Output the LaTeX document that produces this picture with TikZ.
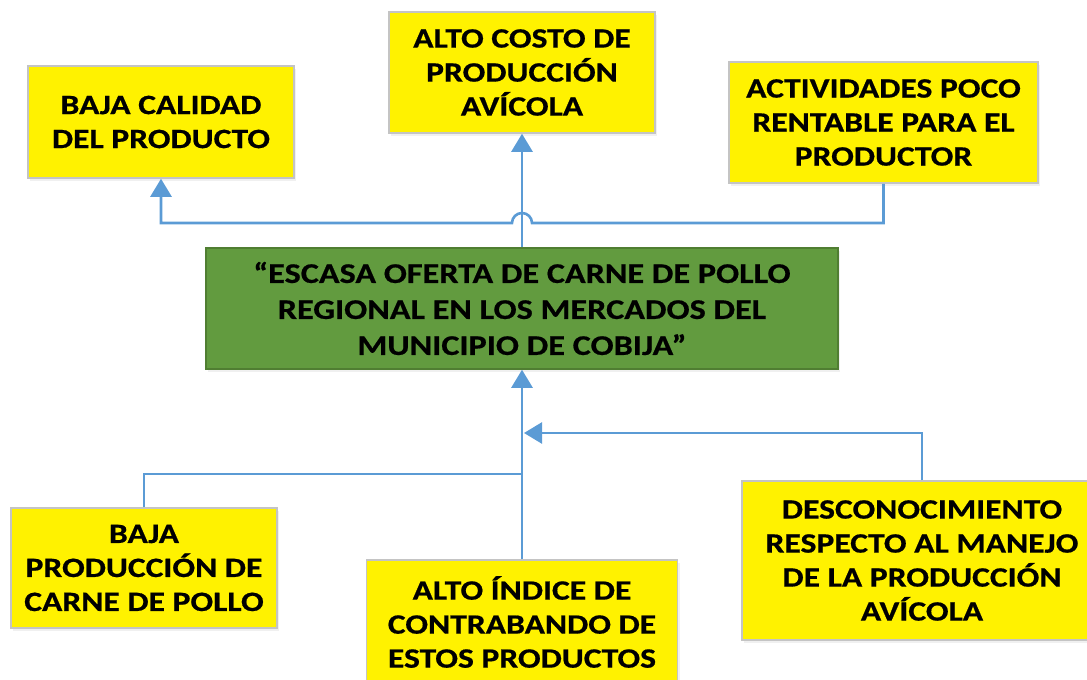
\documentclass[tikz,border=0pt]{standalone}
\usepackage{fontspec}
\setmainfont{Carlito}[FakeStretch=1.2, BoldFeatures={FakeBold=0.6}]
\usetikzlibrary{arrows.meta, calc, positioning, shadows}
\definecolor{conncolor}{HTML}{5B9BD5}
\definecolor{greenfill}{HTML}{629B3F}
\definecolor{greenline}{HTML}{507E32}
\definecolor{boxline}{HTML}{C4C4C4}
\tikzset{
	conn/.style={line width=2.6pt, draw=conncolor, -{Triangle[width=21pt,length=18pt]}},
	conn plain/.style={line width=2.6pt, draw=conncolor},
	causa/.style={
		rectangle,
		draw=boxline, line width=1.5pt,
		fill=yellow,
		drop shadow={opacity=0.12, shadow xshift=2pt, shadow yshift=-3pt},
		inner sep=0pt,
		align=center,
		font=\fontsize{28}{34}\selectfont\bfseries
	},
	problema/.style={
		causa,
		draw=greenline, fill=greenfill,
		font=\fontsize{28.5}{36}\selectfont\bfseries
	}
}
\begin{document}
\begin{tikzpicture}[x=1pt,y=-1pt]
	\useasboundingbox (0,0) rectangle (1087,680);

	% problema central
	\node[problema, minimum width=632, minimum height=121] (oferta) at (522,308.5) {“ESCASA OFERTA DE CARNE DE POLLO\\REGIONAL EN LOS MERCADOS DEL\\MUNICIPIO DE COBIJA”};

	% efectos
	\node[causa, minimum width=266, minimum height=112] (calidad) at (161,122) {BAJA CALIDAD\\DEL PRODUCTO};
	\node[causa, minimum width=266, minimum height=121] (costo) at (522,72.5) {ALTO COSTO DE\\PRODUCCIÓN\\AVÍCOLA};
	\node[causa, minimum width=309, minimum height=121] (rentable) at (883.5,122.5) {ACTIVIDADES POCO\\RENTABLE PARA EL\\PRODUCTOR};

	% causas
	\node[causa, minimum width=266, minimum height=120] (bajaprod) at (144,568) {BAJA\\PRODUCCIÓN DE\\CARNE DE POLLO};
	\node[causa, minimum width=311, minimum height=124] (contrabando) at (522,622) {ALTO ÍNDICE DE\\CONTRABANDO DE\\ESTOS PRODUCTOS};
	\node[causa, minimum width=360, minimum height=159] (descon) at (922,560.5) {DESCONOCIMIENTO\\RESPECTO AL MANEJO\\DE LA PRODUCCIÓN\\AVÍCOLA};

	% puntos de union
	\coordinate (hopR) at (532,223);
	\coordinate (joinA) at (522,474);
	\coordinate (joinB) at (524,433);

	% conectores superiores
	\draw[conn] (oferta.north) -- (costo.south);
	\draw[conn] (rentable.south) |- (hopR) arc[start angle=0, end angle=180, radius=10pt] -| (calidad.south);

	% conectores inferiores
	\draw[conn] (contrabando.north) -- (oferta.south);
	\draw[conn plain] (bajaprod.north) |- (joinA);
	\draw[conn] (descon.north) |- (joinB);
\end{tikzpicture}
\end{document}
